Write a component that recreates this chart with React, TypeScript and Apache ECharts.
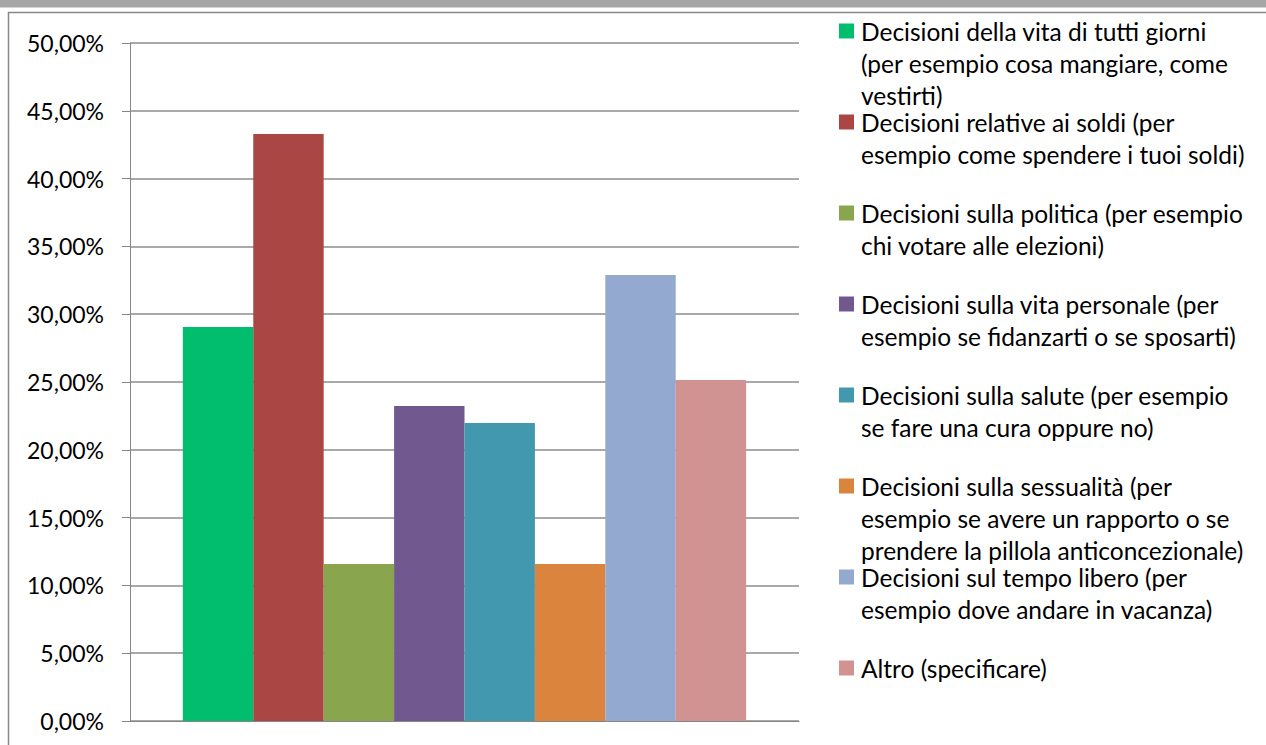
import React, { useEffect, useRef } from "react";
import * as echarts from "echarts";

const seriesNames: string[] = [
  "Decisioni della vita di tutti giorni\n(per esempio cosa mangiare, come\nvestirti)",
  "Decisioni relative ai soldi (per\nesempio come spendere i tuoi soldi)",
  "Decisioni sulla politica (per esempio\nchi votare alle elezioni)",
  "Decisioni sulla vita personale (per\nesempio se fidanzarti o se sposarti)",
  "Decisioni sulla salute (per esempio\nse fare una cura oppure no)",
  "Decisioni sulla sessualità (per\nesempio se avere un rapporto o se\nprendere la pillola anticoncezionale)",
  "Decisioni sul tempo libero (per\nesempio dove andare in vacanza)",
  "Altro (specificare)",
];
const seriesValues: number[] = [29.06, 43.29, 11.58, 23.23, 21.98, 11.58, 32.89, 25.15];
const seriesColors: string[] = [
  "#00BE6E", "#AA4643", "#89A54E", "#71588F", "#4198AF", "#DB843D", "#93A9CF", "#D19392",
];
const categories: string[] = [""];
const yTicks = { min: 0, max: 50, interval: 5 };

const FONT = "Lato, 'Liberation Sans', sans-serif";

export default function App() {
  const ref = useRef<HTMLDivElement>(null);
  useEffect(() => {
    if (!ref.current) return;
    document.body.style.margin = "0";
    document.body.style.overflow = "hidden";
    const chart = echarts.init(ref.current, undefined, { renderer: "svg" });

    const legendTop0 = 31;
    const legendStep = 91;
    const legendGraphics: any[] = [];
    seriesNames.forEach((name, i) => {
      const cy = legendTop0 + i * legendStep;
      legendGraphics.push({
        type: "rect",
        shape: { x: 839, y: cy - 7.5, width: 15, height: 15 },
        style: { fill: seriesColors[i] },
        silent: true,
      });
      legendGraphics.push({
        type: "text",
        x: 861,
        y: cy - 16,
        style: {
          text: name,
          font: `24.5px ${FONT}`,
          fill: "#000",
          lineHeight: 32,
          verticalAlign: "top",
          align: "left",
        },
        silent: true,
      });
    });

    chart.setOption({
      animation: false,
      backgroundColor: "#ffffff",
      grid: { left: 130, right: 467, top: 43, bottom: 24, containLabel: false },
      xAxis: {
        type: "category",
        data: categories,
        axisLine: { show: true, lineStyle: { color: "#868686", width: 1 } },
        axisTick: { show: false },
        axisLabel: { show: false },
        splitLine: { show: false },
      },
      yAxis: {
        type: "value",
        min: yTicks.min,
        max: yTicks.max,
        interval: yTicks.interval,
        axisLine: { show: true, lineStyle: { color: "#868686", width: 1 } },
        axisTick: { show: true, length: 8, lineStyle: { color: "#868686" } },
        axisLabel: {
          margin: 26,
          color: "#000",
          fontFamily: FONT,
          fontSize: 23,
          formatter: (v: number) => v.toFixed(2).replace(".", ",") + "%",
        },
        splitLine: { show: true, lineStyle: { color: "#8c8c8c", width: 1.5 } },
      },
      series: seriesNames.map((name, i) => ({
        type: "bar",
        name,
        data: [seriesValues[i]],
        itemStyle: { color: seriesColors[i] },
        barGap: "0%",
        barCategoryGap: "15.8%",
      })),
      graphic: [
        {
          type: "rect",
          shape: { x: 0, y: 0, width: 1266, height: 7 },
          style: { fill: "#a6a6a6" },
          silent: true,
        },
        {
          type: "rect",
          shape: { x: 0, y: 7, width: 1266, height: 1 },
          style: { fill: "#d4d4d4" },
          silent: true,
        },
        {
          type: "line",
          shape: { x1: 8, y1: 12.5, x2: 1270, y2: 12.5 },
          style: { stroke: "#878787", lineWidth: 1.5 },
          silent: true,
        },
        {
          type: "line",
          shape: { x1: 8.5, y1: 12, x2: 8.5, y2: 750 },
          style: { stroke: "#878787", lineWidth: 1.5 },
          silent: true,
        },
        ...legendGraphics,
      ],
    });
    return () => chart.dispose();
  }, []);
  return (
    <div
      ref={ref}
      style={{ position: "fixed", left: 0, top: 0, width: 1266, height: 745 }}
    />
  );
}
